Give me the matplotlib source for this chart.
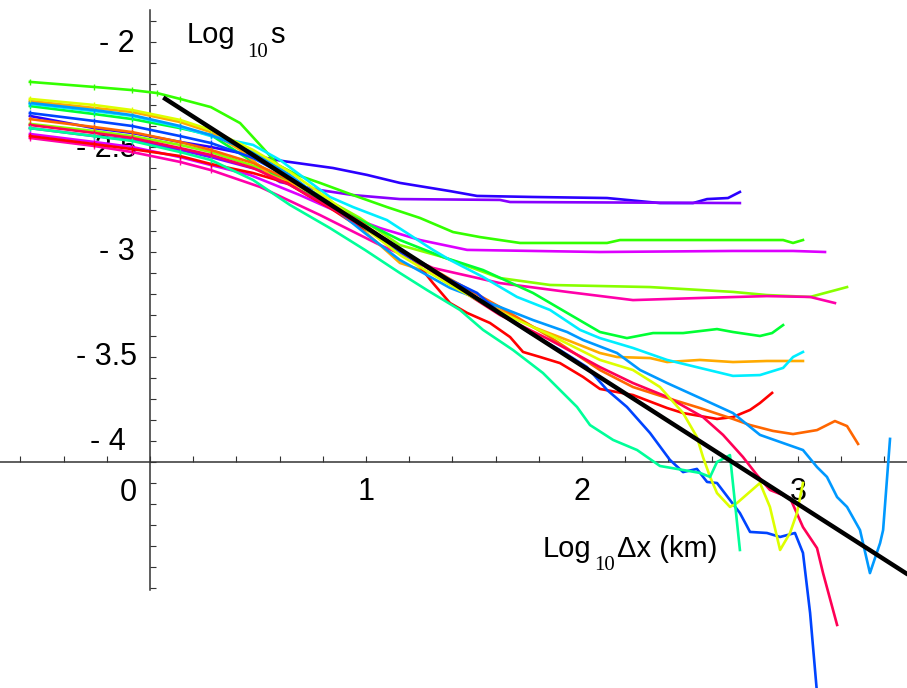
import matplotlib.pyplot as plt
import numpy as np

plt.rcParams["font.family"] = ["Liberation Sans", "DejaVu Sans"]

# structure function curves (log10 dx, log10 s)
blue_x = [-0.556, -0.259, -0.083, 0.139, 0.282, 0.463, 0.616, 0.847, 1.005, 1.157, 1.389, 1.514, 1.773, 2.116, 2.361, 2.514, 2.579, 2.676, 2.731]
blue_y = [-2.352, -2.410, -2.433, -2.476, -2.500, -2.538, -2.567, -2.600, -2.633, -2.671, -2.710, -2.733, -2.738, -2.743, -2.767, -2.767, -2.748, -2.743, -2.714]

violet_x = [-0.556, -0.259, -0.083, 0.139, 0.282, 0.509, 0.602, 0.787, 0.940, 1.157, 1.620, 1.667, 2.731]
violet_y = [-2.410, -2.448, -2.467, -2.514, -2.548, -2.610, -2.667, -2.705, -2.729, -2.748, -2.752, -2.762, -2.767]

green_x = [-0.556, -0.259, -0.083, 0.032, 0.139, 0.282, 0.417, 0.523, 0.593, 0.681, 0.787, 0.940, 1.097, 1.250, 1.403, 1.528, 1.713, 2.116, 2.176, 2.931, 2.977, 3.023]
green_y = [-2.190, -2.214, -2.229, -2.243, -2.271, -2.310, -2.386, -2.505, -2.586, -2.633, -2.671, -2.729, -2.786, -2.838, -2.905, -2.929, -2.957, -2.957, -2.943, -2.943, -2.957, -2.943]

magenta_x = [-0.556, -0.259, -0.083, 0.139, 0.282, 0.463, 0.694, 0.880, 1.065, 1.250, 1.468, 2.083, 2.699, 2.977, 3.125]
magenta_y = [-2.438, -2.476, -2.500, -2.548, -2.586, -2.633, -2.729, -2.814, -2.886, -2.943, -2.990, -3.000, -2.995, -2.995, -3.000]

lime_x = [-0.556, -0.259, -0.083, 0.139, 0.282, 0.509, 0.741, 0.972, 1.157, 1.356, 1.620, 1.852, 2.315, 2.699, 2.856, 3.056, 3.227]
lime_y = [-2.390, -2.424, -2.448, -2.490, -2.524, -2.600, -2.705, -2.838, -2.967, -3.024, -3.124, -3.157, -3.167, -3.190, -3.205, -3.214, -3.167]

pink_x = [-0.556, -0.259, -0.083, 0.139, 0.282, 0.509, 0.787, 1.065, 1.310, 1.620, 1.931, 2.236, 2.546, 2.856, 3.056, 3.171]
pink_y = [-2.457, -2.495, -2.524, -2.571, -2.610, -2.690, -2.824, -2.967, -3.076, -3.148, -3.190, -3.229, -3.219, -3.210, -3.214, -3.243]

green2_x = [-0.556, -0.259, -0.083, 0.139, 0.282, 0.463, 0.694, 0.926, 1.157, 1.356, 1.542, 1.773, 1.931, 2.083, 2.208, 2.329, 2.468, 2.625, 2.699, 2.824, 2.880, 2.931]
green2_y = [-2.305, -2.343, -2.367, -2.410, -2.443, -2.562, -2.705, -2.824, -2.943, -3.024, -3.086, -3.195, -3.290, -3.381, -3.410, -3.386, -3.386, -3.367, -3.381, -3.400, -3.386, -3.348]

orange_x = [-0.556, -0.259, -0.083, 0.139, 0.282, 0.417, 0.556, 0.694, 0.880, 1.065, 1.157, 1.356, 1.468, 1.620, 1.773, 1.931, 2.083, 2.162, 2.315, 2.394, 2.546, 2.699, 2.856, 3.023]
orange_y = [-2.281, -2.314, -2.333, -2.381, -2.429, -2.514, -2.633, -2.690, -2.800, -2.967, -3.052, -3.119, -3.195, -3.276, -3.357, -3.419, -3.481, -3.500, -3.505, -3.524, -3.514, -3.524, -3.519, -3.519]

cyan_x = [-0.556, -0.259, -0.083, 0.139, 0.282, 0.477, 0.602, 0.708, 0.833, 0.940, 1.097, 1.190, 1.310, 1.389, 1.542, 1.699, 1.852, 1.991, 2.083, 2.236, 2.394, 2.546, 2.699, 2.824, 2.931, 2.977, 3.023]
cyan_y = [-2.295, -2.329, -2.352, -2.405, -2.448, -2.490, -2.562, -2.643, -2.738, -2.786, -2.848, -2.910, -2.990, -3.038, -3.119, -3.214, -3.276, -3.371, -3.410, -3.457, -3.514, -3.552, -3.590, -3.586, -3.552, -3.500, -3.476]

red_x = [-0.556, -0.259, -0.083, 0.139, 0.282, 0.477, 0.634, 0.727, 0.833, 0.940, 1.097, 1.157, 1.236, 1.310, 1.389, 1.468, 1.574, 1.667, 1.727, 1.806, 1.898, 2.005, 2.083, 2.236, 2.394, 2.468, 2.625, 2.699, 2.778, 2.824, 2.880]
red_y = [-2.448, -2.486, -2.510, -2.543, -2.581, -2.624, -2.671, -2.729, -2.790, -2.862, -2.943, -2.990, -3.052, -3.148, -3.243, -3.290, -3.338, -3.405, -3.476, -3.500, -3.529, -3.595, -3.652, -3.681, -3.743, -3.767, -3.795, -3.786, -3.752, -3.719, -3.671]

orangered_x = [-0.556, -0.259, -0.083, 0.139, 0.282, 0.477, 0.648, 0.833, 0.995, 1.157, 1.389, 1.620, 1.852, 2.083, 2.236, 2.394, 2.546, 2.699, 2.778, 2.884, 2.977, 3.088, 3.171, 3.227, 3.278]
orangered_y = [-2.367, -2.405, -2.429, -2.476, -2.514, -2.576, -2.657, -2.767, -2.871, -2.990, -3.129, -3.262, -3.405, -3.562, -3.643, -3.695, -3.743, -3.795, -3.824, -3.852, -3.867, -3.848, -3.805, -3.829, -3.914]

skyblue_x = [-0.556, -0.259, -0.083, 0.139, 0.282, 0.477, 0.648, 0.833, 0.995, 1.157, 1.389, 1.620, 1.773, 1.931, 2.005, 2.162, 2.269, 2.394, 2.546, 2.699, 2.824, 3.023, 3.088, 3.134, 3.181, 3.227, 3.287, 3.333, 3.380, 3.394, 3.426]
skyblue_y = [-2.290, -2.324, -2.348, -2.400, -2.443, -2.524, -2.633, -2.776, -2.910, -3.038, -3.171, -3.262, -3.324, -3.381, -3.419, -3.481, -3.562, -3.624, -3.695, -3.767, -3.871, -3.943, -4.024, -4.071, -4.167, -4.214, -4.324, -4.529, -4.386, -4.324, -3.890]

blue2_x = [-0.556, -0.259, -0.083, 0.139, 0.282, 0.477, 0.648, 0.833, 0.995, 1.157, 1.343, 1.514, 1.620, 1.759, 1.898, 2.023, 2.116, 2.208, 2.315, 2.407, 2.468, 2.532, 2.579, 2.625, 2.685, 2.731, 2.778, 2.856, 2.917, 2.986, 3.023, 3.056, 3.088]
blue2_y = [-2.338, -2.376, -2.400, -2.448, -2.481, -2.552, -2.648, -2.767, -2.886, -3.000, -3.110, -3.195, -3.290, -3.386, -3.467, -3.548, -3.657, -3.738, -3.862, -3.990, -4.048, -4.033, -4.095, -4.100, -4.181, -4.243, -4.333, -4.338, -4.357, -4.338, -4.433, -4.719, -5.100]

crimson_x = [-0.556, -0.259, -0.083, 0.139, 0.282, 0.477, 0.648, 0.833, 0.995, 1.157, 1.389, 1.620, 1.852, 2.083, 2.236, 2.394, 2.560, 2.653, 2.745, 2.810, 2.870, 2.963, 3.023, 3.088, 3.116, 3.181]
crimson_y = [-2.395, -2.433, -2.457, -2.505, -2.538, -2.600, -2.681, -2.786, -2.886, -2.990, -3.148, -3.300, -3.419, -3.548, -3.624, -3.690, -3.786, -3.871, -3.976, -4.062, -4.133, -4.171, -4.310, -4.410, -4.529, -4.776]

yellow_x = [-0.556, -0.259, -0.083, 0.139, 0.282, 0.477, 0.648, 0.833, 0.995, 1.157, 1.389, 1.620, 1.852, 2.083, 2.236, 2.361, 2.468, 2.532, 2.560, 2.593, 2.625, 2.685, 2.718, 2.824, 2.870, 2.917, 2.963, 2.995, 3.023]
yellow_y = [-2.271, -2.300, -2.324, -2.371, -2.419, -2.514, -2.619, -2.752, -2.886, -3.014, -3.157, -3.286, -3.395, -3.514, -3.562, -3.643, -3.767, -3.881, -3.976, -4.071, -4.148, -4.214, -4.195, -4.100, -4.214, -4.419, -4.338, -4.243, -4.100]

spring_x = [-0.556, -0.259, -0.083, 0.139, 0.282, 0.477, 0.648, 0.833, 0.995, 1.157, 1.282, 1.435, 1.542, 1.681, 1.819, 1.977, 2.037, 2.144, 2.255, 2.361, 2.468, 2.546, 2.593, 2.625, 2.685, 2.731]
spring_y = [-2.410, -2.448, -2.471, -2.524, -2.562, -2.657, -2.776, -2.886, -2.990, -3.100, -3.181, -3.276, -3.371, -3.467, -3.576, -3.738, -3.824, -3.895, -3.943, -4.019, -4.038, -4.052, -4.071, -4.000, -3.967, -4.419]

# fitted power-law line
fit_x = [0.07, 3.50]
fit_y = [-2.27, -4.53]

curves = [
    (blue_x, blue_y, "#2b00ff"),
    (violet_x, violet_y, "#8800ff"),
    (green_x, green_y, "#33ff00"),
    (magenta_x, magenta_y, "#dd00ff"),
    (lime_x, lime_y, "#88ff00"),
    (pink_x, pink_y, "#ff00aa"),
    (green2_x, green2_y, "#00ff33"),
    (orange_x, orange_y, "#ffaa00"),
    (cyan_x, cyan_y, "#00eeff"),
    (red_x, red_y, "#ff0000"),
    (orangered_x, orangered_y, "#ff6600"),
    (skyblue_x, skyblue_y, "#0099ff"),
    (blue2_x, blue2_y, "#0044ff"),
    (crimson_x, crimson_y, "#ff0055"),
    (yellow_x, yellow_y, "#ddff00"),
    (spring_x, spring_y, "#00ff99"),
]

fig = plt.figure(figsize=(9.07, 6.88), dpi=100)
ax = fig.add_axes([0, 0, 1, 1])

for xs, ys, col in curves:
    ax.plot(xs, ys, color=col, lw=1.9, zorder=3,
            marker="|", markevery=range(5), ms=4, mew=1)

ax.plot(fit_x, fit_y, color="black", lw=3.2, zorder=4)

# axes crossing at (0, -4), Mathematica style
ax.set_xlim(-0.6944, 3.5046)
ax.set_ylim(-5.0762, -1.8)
for s in ["top", "right"]:
    ax.spines[s].set_visible(False)
ax.spines["left"].set_position(("data", 0))
ax.spines["bottom"].set_position(("data", -4))
ax.spines["left"].set_bounds(-4.61, -1.85)
for s in ["left", "bottom"]:
    ax.spines[s].set_color("#333333")
    ax.spines[s].set_linewidth(1.1)
    ax.spines[s].set_zorder(2)

ax.set_xticks(np.arange(-0.6, 3.41, 0.2))
ax.set_yticks(np.arange(-4.6, -1.89, 0.1))
ax.tick_params(direction="in", length=4, width=0.8, color="#333333",
               labelleft=False, labelbottom=False)

# tick labels placed by hand as in the original
lab = dict(fontsize=22, zorder=1, va="center")
ax.text(-0.07, -2.01, "- 2", ha="right", **lab)
ax.text(-0.06, -2.51, "- 2.5", ha="right", **lab)
ax.text(-0.07, -3.0, "- 3", ha="right", **lab)
ax.text(-0.06, -3.5, "- 3.5", ha="right", **lab)
ax.text(-0.11, -3.905, "- 4", ha="right", **lab)
ax.text(-0.10, -4.148, "0", ha="center", **lab)
for v in [1, 2, 3]:
    ax.text(v, -4.143, str(v), ha="center", **lab)

# axis titles, with the serif subscript set as its own piece
big = dict(fontsize=21, va="baseline", zorder=5)
sub = dict(fontsize=15, va="baseline", zorder=5, family="Liberation Serif")
ax.text(0.171, -2.005, "Log", **big)
ax.text(0.452, -2.070, "10", **sub)
ax.text(0.555, -2.005, "s", **big)
ax.text(1.819, -4.452, "Log", **big)
ax.text(2.055, -4.514, "10", **sub)
ax.text(2.160, -4.452, "\u0394x (km)", **big)

fig.savefig("out.png", dpi=100)
